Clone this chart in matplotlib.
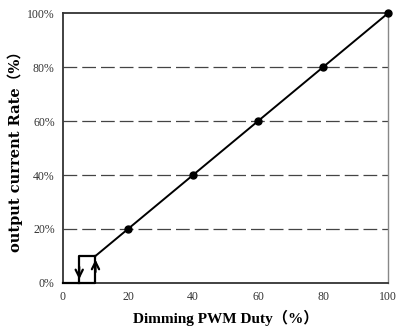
import matplotlib
matplotlib.use("Agg")
import matplotlib.pyplot as plt

duty = [10, 20, 40, 60, 80, 100]
rate = [10, 20, 40, 60, 80, 100]
marker_duty = [20, 40, 60, 80, 100]
marker_rate = [20, 40, 60, 80, 100]
# hysteresis loop at low duty
loop_on_x = [0, 10, 10]
loop_on_y = [0, 0, 10]
loop_off_x = [10, 5, 5]
loop_off_y = [10, 10, 0]
xticks = [0, 20, 40, 60, 80, 100]
yticks = [0, 20, 40, 60, 80, 100]
ytick_labels = ["0%", "20%", "40%", "60%", "80%", "100%"]

plt.rcParams['font.family'] = ['Liberation Serif', 'Noto Sans CJK SC', 'DejaVu Sans']

fig = plt.figure(figsize=(3.96, 3.29), dpi=100)
ax = fig.add_axes([0.159, 0.140, 0.821, 0.820])

for y in yticks[1:-1]:
    ax.axhline(y, color='#444444', lw=0.9, ls=(0, (11, 4)), zorder=1)

ax.plot(duty, rate, color='black', lw=1.4, zorder=3)
ax.plot(marker_duty, marker_rate, 'o', color='black', ms=5, zorder=4, clip_on=False)
ax.plot(loop_on_x, loop_on_y, color='black', lw=1.6, zorder=3, clip_on=False)
ax.plot(loop_off_x, loop_off_y, color='black', lw=1.6, zorder=3, clip_on=False)
ax.annotate('', xy=(loop_on_x[-1], loop_on_y[-1] - 0.3), xytext=(loop_on_x[-1], 3),
            arrowprops=dict(arrowstyle='->', lw=1.6, color='black', mutation_scale=13))
ax.annotate('', xy=(loop_off_x[-1], loop_off_y[-1] + 0.3), xytext=(loop_off_x[-1], 7),
            arrowprops=dict(arrowstyle='->', lw=1.6, color='black', mutation_scale=13))

ax.set_xlim(0, 100)
ax.set_ylim(0, 100)
ax.set_xticks(xticks)
ax.set_yticks(yticks)
ax.set_yticklabels(ytick_labels)
ax.tick_params(length=0, labelsize=8.5, colors='#333333', pad=6)
for s in ['left', 'bottom', 'top']:
    ax.spines[s].set_color('#333333')
    ax.spines[s].set_linewidth(1.3)
ax.spines['right'].set_color('#888888')
ax.spines['right'].set_linewidth(1.0)

ax.set_xlabel('Dimming PWM Duty（%）', fontsize=11, fontweight='bold', labelpad=5)
ax.set_ylabel('output current Rate（%）', fontsize=10.5, fontweight='bold', labelpad=3,
              family=['DejaVu Serif', 'Noto Sans CJK SC'])

fig.savefig('out.png', dpi=100)
